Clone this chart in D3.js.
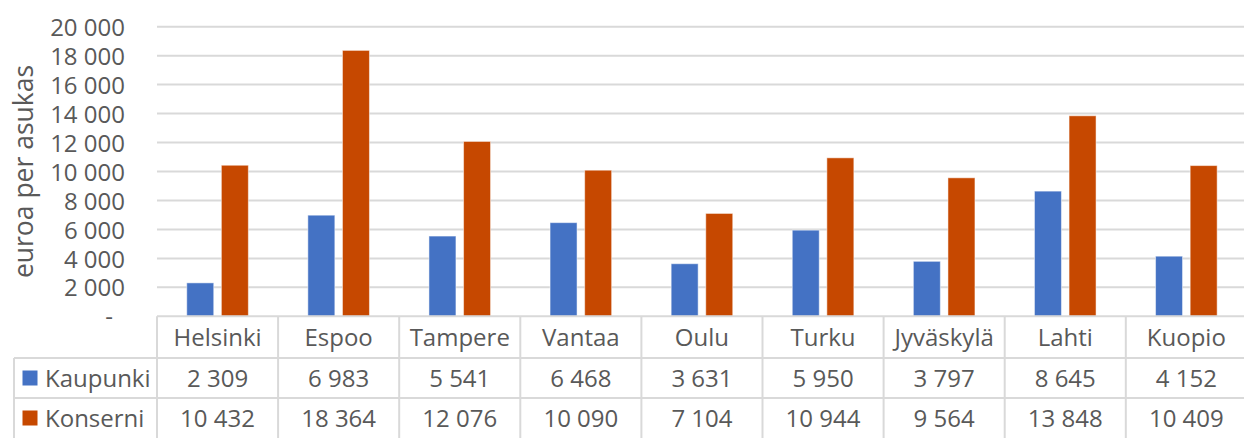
<!DOCTYPE html>
<html>
<head>
<meta charset="utf-8">
<script src="https://cdn.jsdelivr.net/npm/d3@7"></script>
<style>
  body { margin: 0; background: #fff; }
  svg text { font-family: "Open Sans", "Noto Sans", sans-serif; fill: #595959; }
</style>
</head>
<body>
<div id="chart"></div>
<script>
// data
var cities = ["Helsinki", "Espoo", "Tampere", "Vantaa", "Oulu", "Turku", "Jyväskylä", "Lahti", "Kuopio"];
var seriesNames = ["Kaupunki", "Konserni"];
var kaupunki = [2309, 6983, 5541, 6468, 3631, 5950, 3797, 8645, 4152];
var konserni = [10432, 18364, 12076, 10090, 7104, 10944, 9564, 13848, 10409];
var yTicks = [0, 2000, 4000, 6000, 8000, 10000, 12000, 14000, 16000, 18000, 20000];
var colors = ["#4472c4", "#c64800"];

var width = 1244, height = 438;
var plot = { left: 157, top: 26.7, bottom: 316.3, colW: 121.1 };
var rowY = [316.3, 358, 398, 438];
var gridColor = "#d9d9d9";
var fs = 24; // tekstin koko

var fi = d3.formatLocale({ decimal: ",", thousands: "\u00a0", grouping: [3], currency: ["", " €"] });
var fmt = fi.format(",d");

var svg = d3.select("#chart").append("svg")
  .attr("width", width).attr("height", height);

var x = d3.scaleBand()
  .domain(cities)
  .range([plot.left, plot.left + cities.length * plot.colW])
  .paddingInner(0).paddingOuter(0);

var groupW = 61.6;
var x1 = d3.scaleBand()
  .domain(seriesNames)
  .range([0, groupW])
  .paddingInner(0.22).paddingOuter(0);

var y = d3.scaleLinear().domain([0, 20000]).range([plot.bottom, plot.top]);

// gridlines
svg.append("g").selectAll("line")
  .data(yTicks.filter(d => d > 0))
  .join("line")
  .attr("x1", plot.left).attr("x2", width)
  .attr("y1", d => y(d)).attr("y2", d => y(d))
  .attr("stroke", gridColor).attr("stroke-width", 2);

// y axis labels
var yAxis = d3.axisLeft(y).tickValues(yTicks).tickSize(0).tickPadding(0)
  .tickFormat(d => d === 0 ? "-" : fmt(d));
var yg = svg.append("g")
  .attr("transform", "translate(125,0)")
  .call(yAxis);
yg.select(".domain").remove();
yg.selectAll("text")
  .attr("font-size", fs)
  .attr("font-family", null)
  .attr("fill", null)
  .attr("dy", "0.36em")
  .attr("x", d => d === 0 ? -12 : 0);

// y title
svg.append("text")
  .attr("transform", "translate(33," + ((plot.top + plot.bottom) / 2 + 0) + ") rotate(-90)")
  .attr("text-anchor", "middle")
  .attr("font-size", 26.5)
  .text("euroa per asukas");

// bars
var rows = cities.map((c, i) => ({ city: c, values: [kaupunki[i], konserni[i]] }));
var groups = svg.append("g").selectAll("g")
  .data(rows)
  .join("g")
  .attr("transform", d => "translate(" + (x(d.city) + (x.bandwidth() - groupW) / 2) + ",0)");

groups.selectAll("rect")
  .data(d => d.values.map((v, j) => ({ s: seriesNames[j], v: v, j: j })))
  .join("rect")
  .attr("x", d => x1(d.s))
  .attr("width", x1.bandwidth())
  .attr("y", d => y(d.v))
  .attr("height", d => y(0) - y(d.v))
  .attr("fill", d => colors[d.j])
  .attr("stroke", "#fff")
  .attr("stroke-opacity", 0.5)
  .attr("stroke-width", 1);

// data table
var table = svg.append("g");
var right = width;
// horizontal lines
table.append("line").attr("x1", plot.left).attr("x2", right)
  .attr("y1", rowY[0]).attr("y2", rowY[0]);
table.append("line").attr("x1", 14).attr("x2", right)
  .attr("y1", rowY[1]).attr("y2", rowY[1]);
table.append("line").attr("x1", 14).attr("x2", right)
  .attr("y1", rowY[2]).attr("y2", rowY[2]);
// vertical lines
table.append("line").attr("x1", 14).attr("x2", 14)
  .attr("y1", rowY[1]).attr("y2", rowY[3]);
table.selectAll(".vline")
  .data(cities)
  .join("line")
  .attr("class", "vline")
  .attr("x1", d => x(d)).attr("x2", d => x(d))
  .attr("y1", rowY[0]).attr("y2", rowY[3]);
table.append("line")
  .attr("x1", x.range()[1]).attr("x2", x.range()[1])
  .attr("y1", rowY[0]).attr("y2", rowY[3]);
table.selectAll("line").attr("stroke", gridColor).attr("stroke-width", 2);

// category labels
table.selectAll(".cat")
  .data(cities)
  .join("text")
  .attr("class", "cat")
  .attr("x", d => x(d) + x.bandwidth() / 2)
  .attr("y", (rowY[0] + rowY[1]) / 2)
  .attr("dy", "0.36em")
  .attr("text-anchor", "middle")
  .attr("font-size", fs)
  .text(d => d);

// value rows
[kaupunki, konserni].forEach(function(vals, j) {
  var cy = (rowY[j + 1] + rowY[j + 2]) / 2;
  table.selectAll(".val" + j)
    .data(vals)
    .join("text")
    .attr("class", "val" + j)
    .attr("x", (d, i) => x(cities[i]) + x.bandwidth() / 2)
    .attr("y", cy)
    .attr("dy", "0.36em")
    .attr("text-anchor", "middle")
    .attr("font-size", fs)
    .text(d => fmt(d));
  // legend key
  table.append("rect")
    .attr("x", 22.5).attr("y", cy - 7.5)
    .attr("width", 15).attr("height", 15)
    .attr("fill", colors[j]);
  table.append("text")
    .attr("x", 45).attr("y", cy)
    .attr("dy", "0.36em")
    .attr("font-size", fs)
    .text(seriesNames[j]);
});
</script>
</body>
</html>
